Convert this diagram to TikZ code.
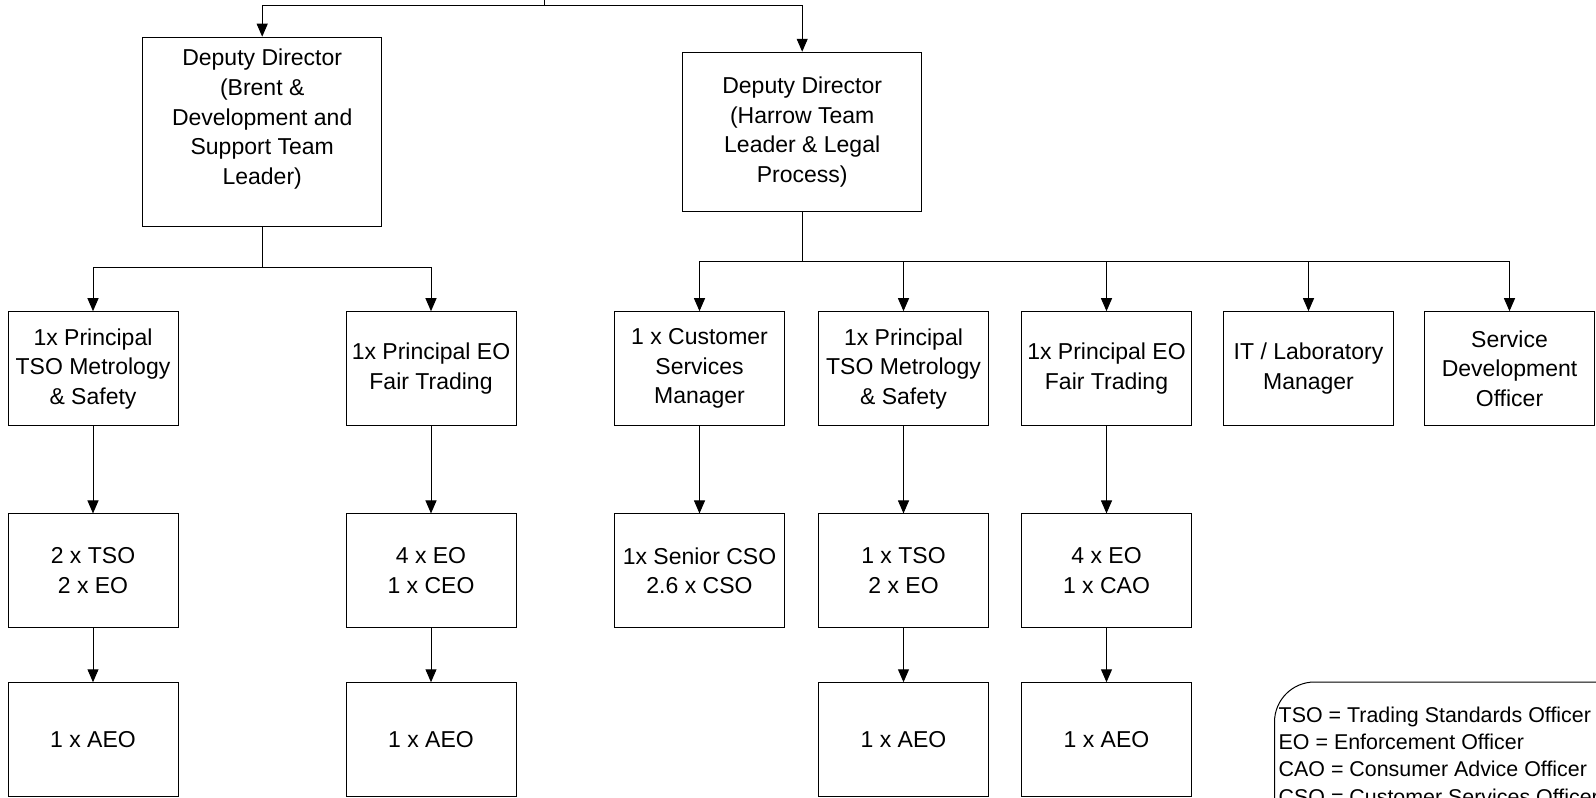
\documentclass[tikz,border=0pt]{standalone}
\usepackage{fontspec}
\setmainfont{Liberation Sans}
\usetikzlibrary{arrows.meta}
\begin{document}
\begin{tikzpicture}[x=1pt,y=-1pt,
  boxfont/.style={font=\fontsize{23}{29.6}\selectfont},
  box/.style={draw=black,line width=1pt,fill=white,inner sep=0pt,align=center,boxfont},
  txt/.style={inner sep=0pt,align=center,boxfont},
  rowbox/.style={box,minimum width=170pt,minimum height=114pt},
  conn/.style={line width=1pt,-{Triangle[length=13pt,width=11pt]}},
  plain/.style={line width=1pt}]
\useasboundingbox (0,0) rectangle (1596,798);
\clip (0,0) rectangle (1596,798);
% top level
\coordinate (top) at (544.3,0);
\coordinate (tj) at (544.3,5.7);
\node[box,minimum width=239pt,minimum height=189pt] (dd1) at (262.2,131.7) {};
\node[txt] (dd1t) at ([yshift=12.5pt]dd1.center) {Deputy Director\\(Brent \&\\Development and\\Support Team\\Leader)};
\node[box,minimum width=239pt,minimum height=159.5pt] (dd2) at (802.2,132) {Deputy Director\\(Harrow Team\\Leader \& Legal\\Process)};
\draw[plain] (top) -- (tj);
\draw[conn] (tj) -| (dd1.north);
\draw[conn] (tj) -| (dd2.north);
% row 2
\foreach \n/\x/\t in {a2/93/{1x Principal\\TSO Metrology\\\& Safety},
                     b2/431/{1x Principal EO\\Fair Trading},
                     c2/699.5/{1 x Customer\\Services\\Manager},
                     d2/903.5/{1x Principal\\TSO Metrology\\\& Safety},
                     e2/1106.5/{1x Principal EO\\Fair Trading},
                     f2/1308.5/{IT / Laboratory\\Manager},
                     g2/1509.5/{Service\\Development\\Officer}}
  {\node[rowbox] (\n) at (\x,368.7) {\t};}
% row 3
\foreach \n/\x/\t in {a3/93/{2 x TSO\\2 x EO},
                     b3/431/{4 x EO\\1 x CEO},
                     c3/699.5/{1x Senior CSO\\2.6 x CSO},
                     d3/903.5/{1 x TSO\\2 x EO},
                     e3/1106.5/{4 x EO\\1 x CAO}}
  {\node[rowbox,minimum height=113.7pt] (\n) at (\x,570.8) {\t};}
% row 4
\foreach \n/\x in {a4/93,b4/431,d4/903.5,e4/1106.5}
  {\node[rowbox,minimum height=113.3pt] (\n) at (\x,739.4) {1 x AEO};}
% connectors from deputy 1
\coordinate (j1) at (262.2,267.7);
\draw[plain] (dd1.south) -- (j1);
\draw[conn] (j1) -| (a2.north);
\draw[conn] (j1) -| (b2.north);
% connectors from deputy 2
\coordinate (j2) at (802.2,261.7);
\draw[plain] (dd2.south) -- (j2);
\foreach \n in {c2,d2,e2,f2,g2} {\draw[conn] (j2) -| (\n.north);}
% vertical chains
\foreach \u/\v in {a2/a3,b2/b3,c2/c3,d2/d3,e2/e3,a3/a4,b3/b4,d3/d4,e3/e4}
  {\draw[conn] (\u.south) -- (\v.north);}
% legend
\draw[line width=1pt,rounded corners=40pt] (1600,682) -- (1274.5,682) -- (1274.5,802);
\node[anchor=west,align=left,inner sep=0pt,font=\fontsize{21.4}{27.3}\selectfont] (legend) at (1278.5,755.5)
  {TSO = Trading Standards Officer\\EO = Enforcement Officer\\CAO = Consumer Advice Officer\\CSO = Customer Services Officer};
\end{tikzpicture}
\end{document}
